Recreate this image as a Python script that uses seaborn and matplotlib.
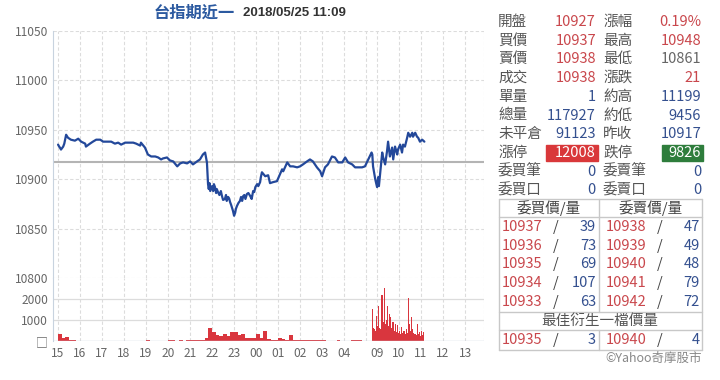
import matplotlib
matplotlib.use("Agg")
import matplotlib.pyplot as plt
import seaborn as sns
import pandas as pd
from matplotlib.patches import Rectangle
from matplotlib.lines import Line2D

# price line (time, price)
price_times = ['15:00', '15:03', '15:05', '15:08', '15:14', '15:17', '15:22', '15:27', '15:35', '15:46',
               '15:55', '16:03', '16:14', '16:16', '16:27', '16:35', '16:44', '16:55', '17:03', '17:11',
               '17:25', '17:35', '17:44', '17:52', '18:03', '18:11', '18:25', '18:33', '18:44', '18:46',
               '18:57', '19:05', '19:14', '19:25', '19:33', '19:41', '19:46', '19:57', '20:05', '20:14',
               '20:25', '20:33', '20:41', '20:52', '21:00', '21:08', '21:19', '21:27', '21:35', '21:41',
               '21:46', '21:49', '21:51', '21:53', '21:55', '21:57', '22:00', '22:03', '22:05', '22:08',
               '22:11', '22:13', '22:16', '22:20', '22:24', '22:27', '22:30', '22:35', '22:38', '22:40',
               '22:44', '22:47', '22:49', '22:52', '22:57', '23:00', '23:03', '23:05', '23:08', '23:12',
               '23:16', '23:19', '23:22', '23:25', '23:28', '23:31', '23:35', '23:39', '23:44', '23:48',
               '23:52', '23:55', '23:58', '00:03', '00:06', '00:11', '00:13', '00:16', '00:25', '00:33',
               '00:38', '00:46', '00:57', '01:05', '01:11', '01:14', '01:25', '01:33', '01:41', '01:52',
               '02:00', '02:08', '02:19', '02:27', '02:35', '02:46', '02:55', '03:00', '03:08', '03:16',
               '03:27', '03:35', '03:44', '03:55', '04:03', '04:11', '04:22', '04:30', '04:38', '04:49',
               '04:57',
               '08:45', '08:47', '08:49', '08:55', '09:00', '09:03', '09:05', '09:14', '09:16', '09:22',
               '09:27', '09:30', '09:35', '09:41', '09:44', '09:49', '09:55', '09:57', '10:03', '10:08',
               '10:11', '10:16', '10:22', '10:25', '10:30', '10:36', '10:38', '10:44', '10:49', '10:52',
               '10:57', '11:03', '11:09']
prices = [10935, 10933, 10932, 10930, 10933, 10936, 10945, 10942, 10940, 10939,
          10941, 10938, 10936, 10933, 10936, 10938, 10940, 10940, 10938, 10938,
          10938, 10936, 10937, 10935, 10937, 10937, 10937, 10936, 10934, 10937,
          10932, 10925, 10923, 10923, 10922, 10920, 10921, 10922, 10919, 10918,
          10913, 10916, 10917, 10916, 10918, 10915, 10918, 10920, 10925, 10927,
          10917, 10895, 10890, 10896, 10888, 10890, 10893, 10888, 10895, 10892,
          10886, 10890, 10887, 10884, 10888, 10883, 10879, 10880, 10884, 10878,
          10882, 10880, 10877, 10874, 10868, 10863, 10866, 10870, 10873, 10876,
          10878, 10882, 10878, 10883, 10884, 10880, 10885, 10886, 10883, 10880,
          10888, 10887, 10892, 10895, 10893, 10897, 10902, 10907, 10903, 10904,
          10896, 10897, 10898, 10905, 10910, 10908, 10917, 10913, 10913, 10912,
          10913, 10915, 10918, 10920, 10918, 10912, 10908, 10903, 10912, 10915,
          10923, 10922, 10917, 10917, 10922, 10917, 10915, 10912, 10912, 10912,
          10913,
          10927, 10925, 10913, 10900, 10892, 10902, 10893, 10927, 10923, 10915,
          10928, 10938, 10923, 10932, 10920, 10933, 10925, 10930, 10935, 10927,
          10935, 10933, 10942, 10947, 10943, 10947, 10943, 10947, 10943, 10942,
          10938, 10940, 10938]
prev_close = 10917

# volume, night session 10-min bins from 15:00, day session 3-min bins from 08:45
night_vol = [330, 120, 200, 60, 30, 20,
             15, 10, 10, 10, 10, 10,
             10, 10, 10, 10, 10, 10,
             10, 10, 15, 10, 10, 15,
             40, 15, 10, 15, 20, 15,
             30, 60, 20, 70, 20, 30,
             30, 40, 30, 60, 150, 620,
             420, 300, 260, 330, 260, 420,
             440, 280, 330, 120, 130, 150,
             330, 120, 500, 80, 60, 70,
             130, 100, 60, 270, 50, 40,
             40, 50, 30, 40, 30, 30,
             60, 20, 20, 20, 30, 20,
             20, 20, 30, 30, 40, 20]
day_vol = [1520, 600, 560, 500, 1200, 700, 1660, 600, 560, 2200,
           900, 2520, 800, 1000, 1690, 700, 1300, 1150, 600, 900,
           500, 800, 450, 740, 400, 500, 350, 660, 400, 500,
           350, 580, 400, 2050, 800, 500, 1120, 580, 400, 340,
           300, 800, 350, 420, 250, 500, 300, 420]

x_tick_labels = ['15', '16', '17', '18', '19', '20', '21', '22', '23', '00',
                 '01', '02', '03', '04', '09', '10', '11', '12', '13']
price_ticks = [10800, 10850, 10900, 10950, 11000, 11050]
vol_ticks = [0, 1000, 2000]
vol_tick_labels = ['□', '1000', '2000']

info_labels_l = ['開盤', '買價', '賣價', '成交', '單量', '總量', '未平倉', '漲停', '委買筆', '委買口']
info_values_l = ['10927', '10937', '10938', '10938', '1', '117927', '91123', '12008', '0', '0']
info_labels_r = ['漲幅', '最高', '最低', '漲跌', '約高', '約低', '昨收', '跌停', '委賣筆', '委賣口']
info_values_r = ['0.19%', '10948', '10861', '21', '11199', '9456', '10917', '9826', '0', '0']

bid_prices = [10937, 10936, 10935, 10934, 10933]
bid_qty = [39, 73, 69, 107, 63]
ask_prices = [10938, 10939, 10940, 10941, 10942]
ask_qty = [47, 49, 48, 79, 72]
best_bid = (10935, 3)
best_ask = (10940, 4)


def to_pos(hhmm):
    h, m = map(int, hhmm.split(':'))
    mins = h * 60 + m
    if 8 * 60 <= mins < 15 * 60:
        return 14.5 + (mins - 540) / 60
    return ((mins - 900) % 1440) / 60


sns.set_style("white")
plt.rcParams['font.family'] = ['Noto Sans CJK TC', 'DejaVu Sans']

RED = '#c9474c'
BLUE = '#34508f'
GRAY = '#555555'
TICK = '#666666'
GRID = '#dcdcdc'
AXIS = '#c8d3df'

W, H = 720, 380
fig = plt.figure(figsize=(7.2, 3.8), dpi=100)


def fx(x):
    return x / W


def fy(y):
    return 1 - y / H


ax = fig.add_axes([fx(53), fy(278), (484 - 53) / W, (278 - 31) / H])
axv = fig.add_axes([fx(53), fy(341), (484 - 53) / W, (341 - 278) / H], sharex=ax)

x_lo, x_hi = -0.23, 19.36
day_ticks = [14.5, 15.5, 16.5, 17.5, 18.5]
x_ticks = list(range(14)) + day_ticks

df = pd.DataFrame({'pos': [to_pos(t) for t in price_times], 'price': prices})

for a in (ax, axv):
    for xv in x_ticks + [14.0, x_hi - 0.02]:
        a.axvline(xv, color=GRID, lw=0.8, ls=(0, (3, 2)), zorder=0)
    for s in ('top', 'right', 'bottom'):
        a.spines[s].set_visible(False)
    a.spines['left'].set_color(AXIS)
    a.tick_params(length=0, labelsize=8.6, colors=TICK)

for yv in price_ticks:
    ax.axhline(yv, color=GRID, lw=0.8, ls=(0, (3, 2)), zorder=0)
ax.axhline(prev_close, color='#b4b4b4', lw=1.5, zorder=1)
sns.lineplot(data=df, x='pos', y='price', ax=ax, color='#23489a', lw=1.6, sort=False, zorder=3)
ax.set_ylim(10800, 11050)
ax.set_yticks(price_ticks)
ax.set_xlabel('')
ax.set_ylabel('')
ax.tick_params(axis='x', labelbottom=False)

night_pos = [i * 10 / 60 for i in range(len(night_vol))]
day_pos = [to_pos('08:45') + i * 3 / 60 for i in range(len(day_vol))]
axv.bar(night_pos, night_vol, width=10 / 60, align='edge', color='#d9363e', lw=0)
axv.bar(day_pos, day_vol, width=3 / 60, align='edge', color='#d9363e', lw=0)
for yv in (1000, 2000):
    axv.axhline(yv, color=GRID, lw=0.9, zorder=0)
axv.axhline(0, color=AXIS, lw=1.0)
axv.set_ylim(0, 3000)
axv.set_yticks(vol_ticks)
axv.set_yticklabels(vol_tick_labels)
axv.set_xlim(x_lo, x_hi)
axv.set_xticks(x_ticks)
axv.set_xticklabels(x_tick_labels)
axv.tick_params(axis='x', pad=4)

# title
fig.text(fx(235), fy(13), '台指期近一', ha='right', va='center', fontsize=11.7, fontweight='bold', color='#2c5aa0')
fig.text(fx(243), fy(13.5), '2018/05/25 11:09', ha='left', va='center', fontsize=9.5,
         fontweight='bold', color='#333333', family=['Liberation Sans'])

# info panel
row_y = [22 + i * 18.7 for i in range(10)]
l_colors = [RED, RED, RED, RED, BLUE, BLUE, BLUE, 'white', BLUE, BLUE]
r_colors = [RED, RED, '#666666', RED, BLUE, BLUE, BLUE, 'white', BLUE, BLUE]
FS = 10.5
for i, y in enumerate(row_y):
    fig.text(fx(498), fy(y), info_labels_l[i], ha='left', va='center', fontsize=FS, color=GRAY)
    fig.text(fx(596), fy(y), info_values_l[i], ha='right', va='center', fontsize=FS, color=l_colors[i])
    fig.text(fx(603), fy(y), info_labels_r[i], ha='left', va='center', fontsize=FS, color=GRAY)
    fig.text(fx(701), fy(y), info_values_r[i], ha='right', va='center', fontsize=FS, color=r_colors[i])
fig.add_artist(Rectangle((fx(546), fy(161)), (598 - 546) / W, 16 / H, transform=fig.transFigure,
                         color='#d9383a', zorder=0))
fig.add_artist(Rectangle((fx(662), fy(161)), (703 - 662) / W, 16 / H, transform=fig.transFigure,
                         color='#2e7d3c', zorder=0))

# order book table
LC = '#c8c8c8'


def hline(y, x0=499, x1=702):
    fig.add_artist(Line2D([fx(x0), fx(x1)], [fy(y), fy(y)], transform=fig.transFigure, color=LC, lw=1))


def vline(x, y0, y1):
    fig.add_artist(Line2D([fx(x), fx(x)], [fy(y0), fy(y1)], transform=fig.transFigure, color=LC, lw=1))


for y in (199, 217, 312, 330, 350):
    hline(y)
vline(499, 199, 350)
vline(702, 199, 350)
vline(599, 199, 312)
vline(599, 330, 350)

fig.text(fx(549), fy(208), '委買價/量', ha='center', va='center', fontsize=FS, color='#444444')
fig.text(fx(651), fy(208), '委賣價/量', ha='center', va='center', fontsize=FS, color='#444444')
book_y = [227 + i * 18.7 for i in range(5)]


def book_row(y, bp, bq, ap, aq):
    fig.text(fx(502), fy(y), str(bp), ha='left', va='center', fontsize=FS, color=RED)
    fig.text(fx(553), fy(y), '/', ha='left', va='center', fontsize=FS, color='#444444')
    fig.text(fx(596), fy(y), str(bq), ha='right', va='center', fontsize=FS, color=BLUE)
    fig.text(fx(606), fy(y), str(ap), ha='left', va='center', fontsize=FS, color=RED)
    fig.text(fx(657), fy(y), '/', ha='left', va='center', fontsize=FS, color='#444444')
    fig.text(fx(700), fy(y), str(aq), ha='right', va='center', fontsize=FS, color=BLUE)


for i, y in enumerate(book_y):
    book_row(y, bid_prices[i], bid_qty[i], ask_prices[i], ask_qty[i])
fig.text(fx(600), fy(321), '最佳衍生一檔價量', ha='center', va='center', fontsize=FS, color=GRAY)
book_row(340, best_bid[0], best_bid[1], best_ask[0], best_ask[1])
fig.text(fx(702), fy(358), '©Yahoo奇摩股市', ha='right', va='center', fontsize=9, color='#888888')

fig.savefig('out.png', dpi=100)
